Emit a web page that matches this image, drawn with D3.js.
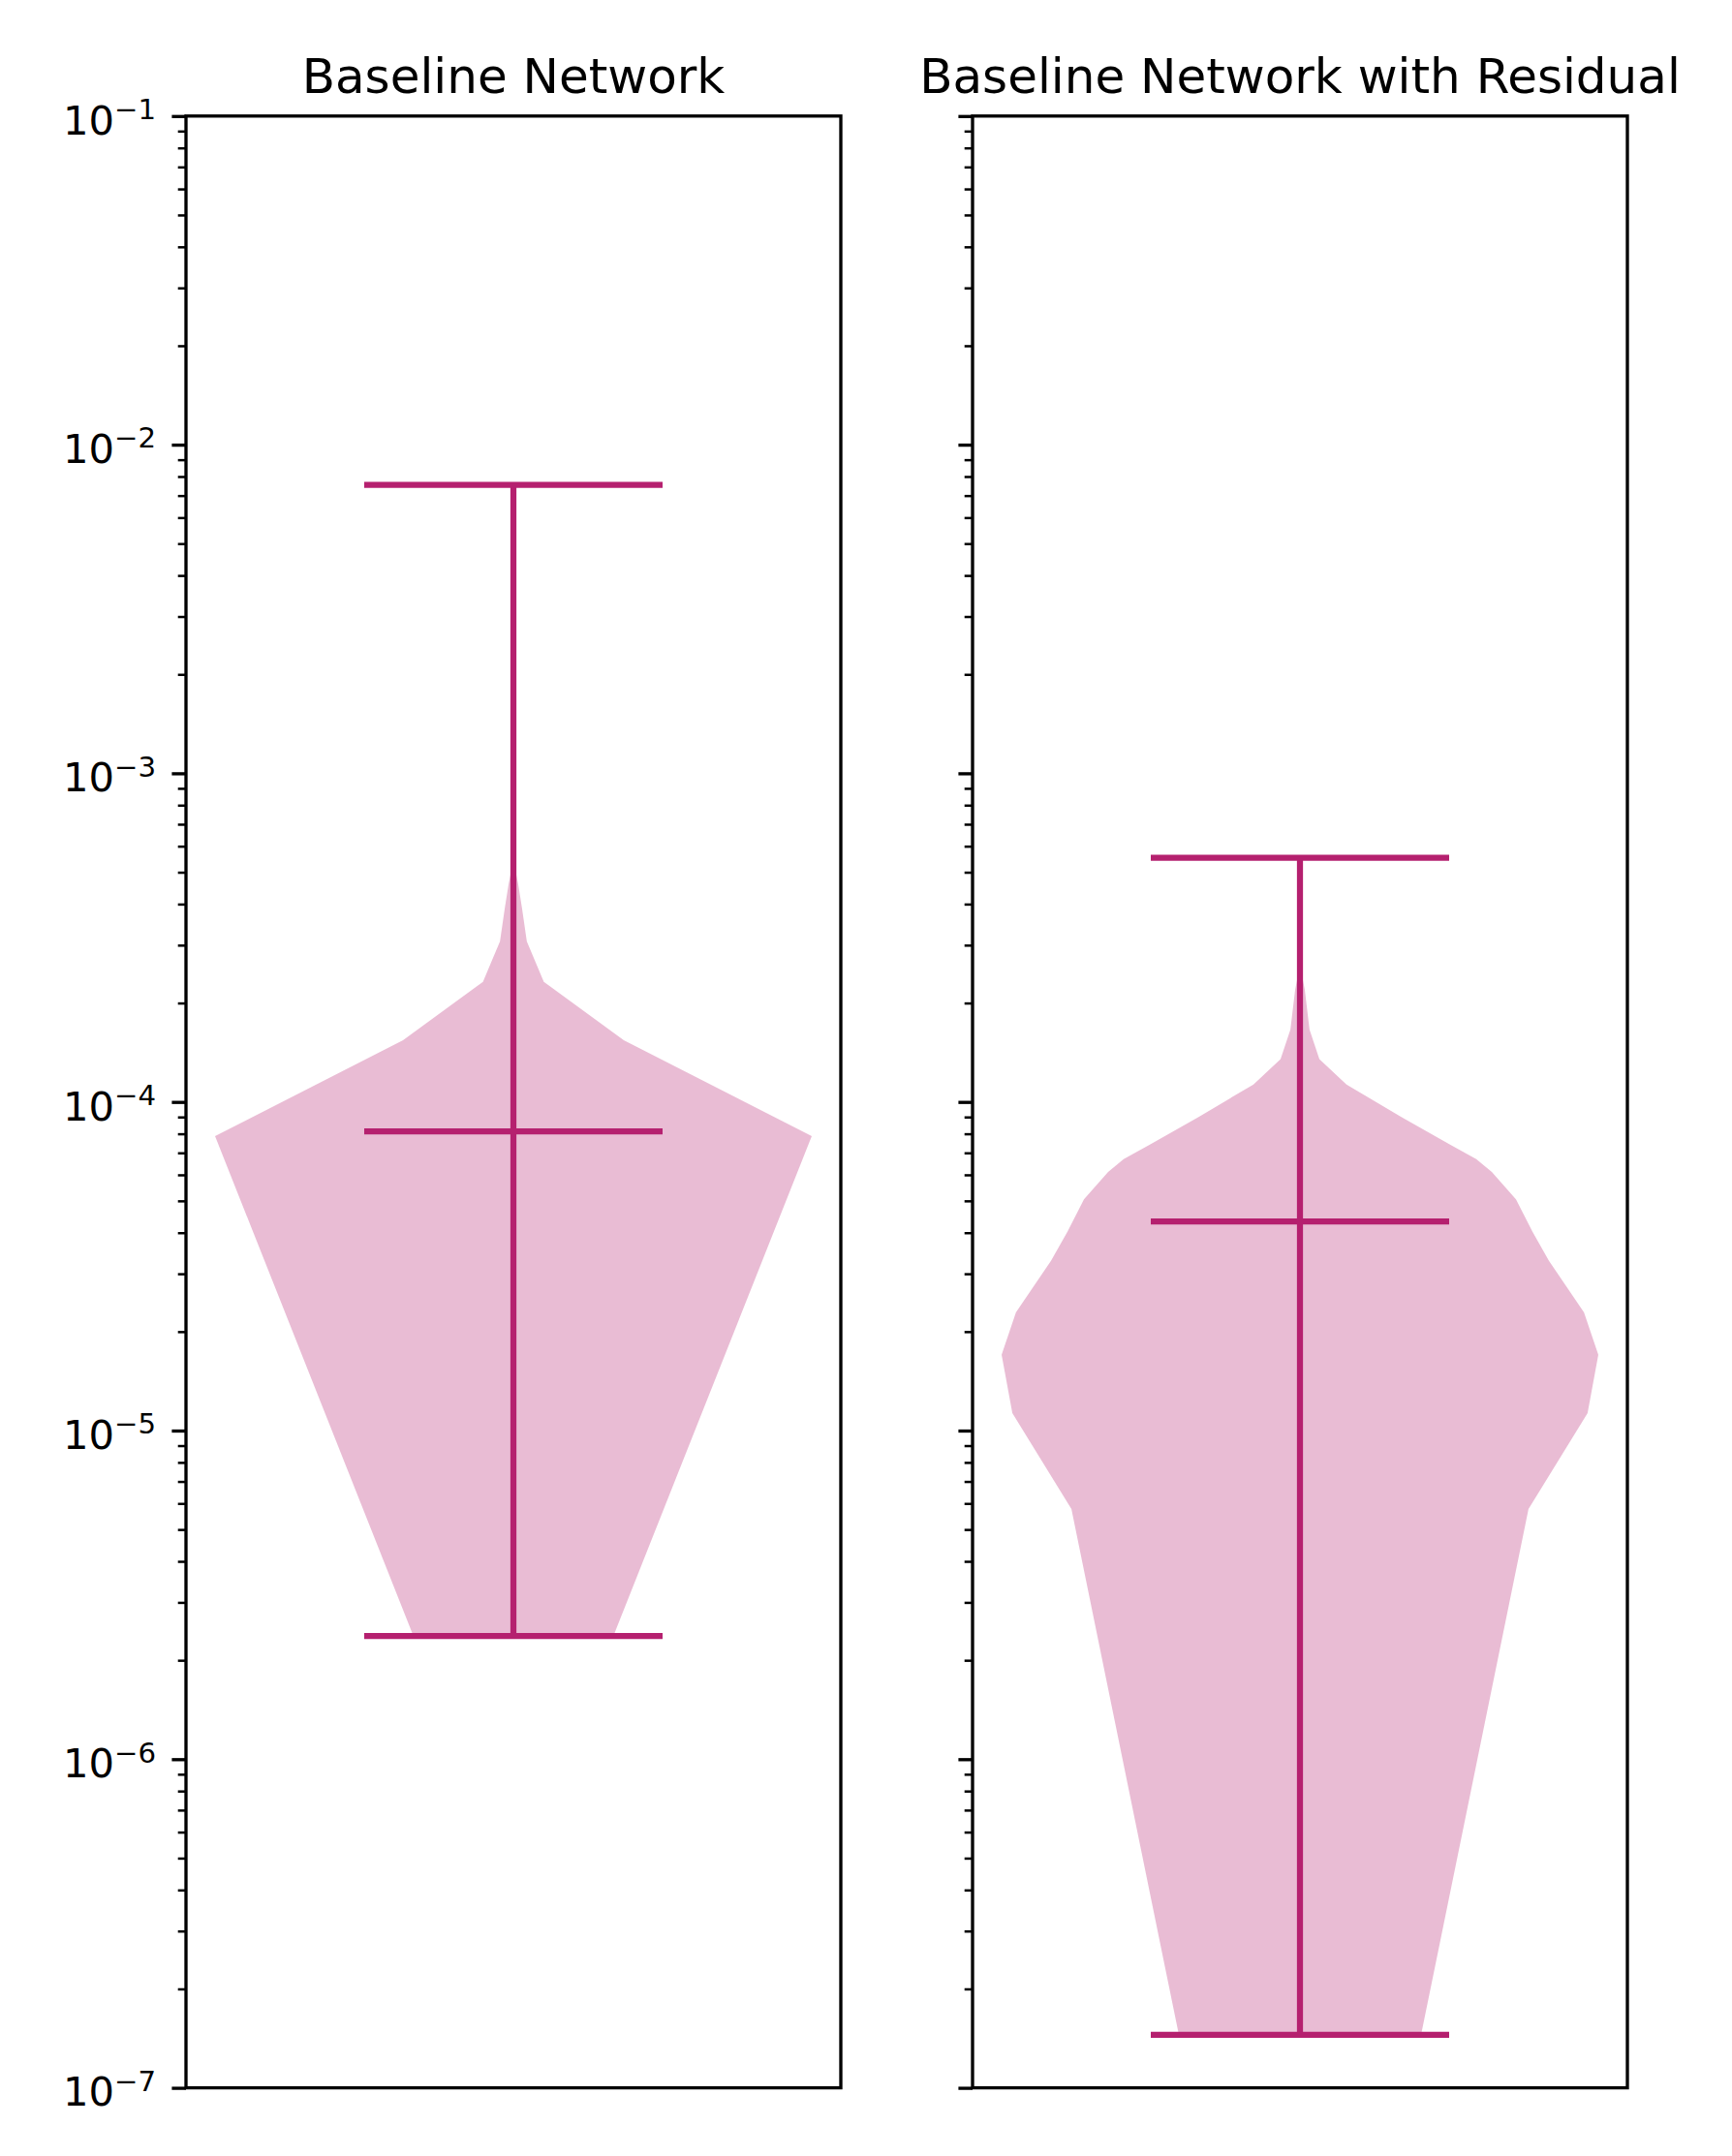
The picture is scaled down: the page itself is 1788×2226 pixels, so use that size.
<!DOCTYPE html>
<html>
<head>
<meta charset="utf-8">
<script src="https://cdn.jsdelivr.net/npm/d3@7"></script>
<style>
    body { margin: 0; background: #fff; }
    svg { display: block; }
    text { font-family: "DejaVu Sans", sans-serif; fill: #000; }
</style>
</head>
<body>
<div id="chart"></div>
<script>
// panel titles
const titles = ["Baseline Network", "Baseline Network with Residual"];

// y tick decades (log10 exponents)
const decades = [-7, -6, -5, -4, -3, -2, -1];

// violin outlines: value and relative density
const baselineValues = [2.37e-6, 7.87e-5, 1.54e-4, 2.32e-4, 3.08e-4, 3.88e-4, 4.60e-4, 5.42e-4, 7.54e-3];
const baselineDensity = [0.335, 1.0, 0.370, 0.102, 0.045, 0.029, 0.016, 0, 0];

const residualValues = [1.45e-7, 5.77e-6, 1.13e-5, 1.70e-5, 2.29e-5, 3.29e-5, 4.03e-5, 5.05e-5, 6.12e-5,
    6.70e-5, 7.42e-5, 8.99e-5, 1.13e-4, 1.35e-4, 1.66e-4, 2.20e-4, 2.60e-4, 5.53e-4];
const residualDensity = [0.406, 0.766, 0.964, 1.0, 0.952, 0.834, 0.779, 0.724, 0.643,
    0.591, 0.503, 0.341, 0.156, 0.065, 0.032, 0.016, 0, 0];

// min / mean / max lines
const baselineStats = { min: 2.37e-6, mean: 8.14e-5, max: 7.54e-3 };
const residualStats = { min: 1.45e-7, mean: 4.33e-5, max: 5.53e-4 };

const panels = [
    { title: titles[0], values: baselineValues, density: baselineDensity, stats: baselineStats, left: 192, labels: true },
    { title: titles[1], values: residualValues, density: residualDensity, stats: residualStats, left: 1004, labels: false },
];

/* Dimensions */
const fixedWidth = 1788;
const fixedHeight = 2226;
const panelWidth = 676;
const plotTop = 119.8;
const plotBottom = 2155.6;
const color = "#b5206f";
const lineWidth = 6.25;

const svg = d3.select("#chart")
    .append("svg")
    .attr("width", fixedWidth)
    .attr("height", fixedHeight);

const yScale = d3.scaleLog()
    .domain([1e-7, 1e-1])
    .range([plotBottom - plotTop, 0]);

// one violin at x = 0.5, body half width 0.4556 of panel
const xScale = d3.scaleLinear()
    .domain([0, 1])
    .range([0, panelWidth]);
const position = 0.5;
const halfWidth = 0.4556;

const majorTicks = decades.map(e => Math.pow(10, e));
const minorTicks = [];
decades.slice(0, -1).forEach(e => {
    d3.range(2, 10).forEach(m => minorTicks.push(m * Math.pow(10, e)));
});

panels.forEach(p => {
    const g = svg.append("g")
        .attr("transform", `translate(${p.left},${plotTop})`);

    const cx = xScale(position);
    const wScale = d3.scaleLinear()
        .domain([0, 1])
        .range([0, xScale(position + halfWidth) - cx]);

    const rows = p.values.map((v, i) => [v, p.density[i]]);

    // violin body
    const area = d3.area()
        .y(d => yScale(d[0]))
        .x0(d => cx - wScale(d[1]))
        .x1(d => cx + wScale(d[1]))
        .curve(d3.curveLinear);

    g.append("path")
        .datum(rows)
        .attr("d", area)
        .attr("fill", color)
        .attr("fill-opacity", 0.3);

    // bars: half of the body width
    const barX0 = xScale(position - halfWidth / 2);
    const barX1 = xScale(position + halfWidth / 2);

    g.append("line")
        .attr("x1", cx).attr("x2", cx)
        .attr("y1", yScale(p.stats.min)).attr("y2", yScale(p.stats.max))
        .attr("stroke", color).attr("stroke-width", lineWidth);

    ["min", "mean", "max"].forEach(k => {
        g.append("line")
            .attr("x1", barX0).attr("x2", barX1)
            .attr("y1", yScale(p.stats[k])).attr("y2", yScale(p.stats[k]))
            .attr("stroke", color).attr("stroke-width", lineWidth);
    });

    // minor ticks
    g.append("g")
        .call(d3.axisLeft(yScale).tickValues(minorTicks).tickSize(8.3).tickFormat(""))
        .call(a => a.select(".domain").remove())
        .selectAll("line")
        .attr("stroke", "#000")
        .attr("stroke-width", 2.5);

    // major ticks
    const major = g.append("g")
        .call(d3.axisLeft(yScale).tickValues(majorTicks).tickSize(14.6))
        .call(a => a.select(".domain").remove());

    major.selectAll("line")
        .attr("stroke", "#000")
        .attr("stroke-width", 3.33);

    major.selectAll("text").remove();

    if (p.labels) {
        major.selectAll(".tick")
            .append("text")
            .attr("x", -31)
            .attr("y", 18.3)
            .attr("text-anchor", "end")
            .style("font-size", "41.7px")
            .each(function (d) {
                const t = d3.select(this);
                t.append("tspan").text("10");
                t.append("tspan")
                    .attr("dy", -15.5)
                    .style("font-size", "29.2px")
                    .text("\u2212" + Math.abs(Math.round(Math.log10(d))));
            });
    }

    // frame
    g.append("rect")
        .attr("x", 0)
        .attr("y", 0)
        .attr("width", panelWidth)
        .attr("height", plotBottom - plotTop)
        .attr("fill", "none")
        .attr("stroke", "#000")
        .attr("stroke-width", 3.33);

    // title
    svg.append("text")
        .attr("x", p.left + panelWidth / 2)
        .attr("y", 95.7)
        .attr("text-anchor", "middle")
        .style("font-size", "50px")
        .text(p.title);
});
</script>
</body>
</html>
